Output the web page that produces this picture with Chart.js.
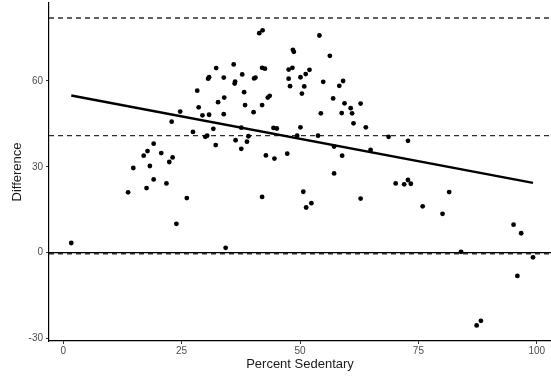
<!DOCTYPE html>
<html>
<head>
<meta charset="utf-8">
<script src="https://cdn.jsdelivr.net/npm/chart.js@4.4.1/dist/chart.umd.min.js"></script>
<style>
  html, body { margin: 0; padding: 0; background: #ffffff; }
  canvas { display: block; }
</style>
</head>
<body>
<canvas id="c" width="551" height="377"></canvas>
<script>
// ---- Data ----
const sedentaryX = [
  1.7, 13.7, 14.8, 17.0, 17.8, 17.6, 18.3, 19.1, 19.1, 20.7,
  21.8, 22.4, 23.1, 22.9, 23.9, 24.7, 26.1, 27.4, 28.3, 28.6,
  29.4, 30.8, 30.0, 30.4, 32.2, 31.7, 32.7, 34.0, 33.9, 32.3,
  30.6, 30.8, 33.9, 36.0, 37.8, 36.2, 36.3, 38.2, 38.4, 37.6,
  36.4, 37.6, 38.8, 39.1, 40.2, 40.3, 40.6, 41.4, 42.1, 42.0,
  42.6, 42.0, 43.2, 43.6, 42.8, 44.6, 44.4, 45.1, 47.3, 47.6,
  48.4, 48.5, 48.7, 47.6, 47.9, 50.1, 50.9, 50.4, 51.2, 52.0,
  50.1, 49.4, 54.1, 56.3, 54.9, 53.8, 54.4, 57.0, 58.3, 59.1,
  59.4, 58.8, 60.7, 61.0, 61.3, 62.8, 63.9, 57.2, 58.9, 57.2,
  64.9, 50.7, 42.0, 62.8, 68.7, 72.8, 70.2, 72.0, 72.8, 73.4,
  81.5, 51.3, 52.4, 34.3, 75.9, 80.1, 95.1, 96.7, 84.0, 99.2,
  95.9, 87.3, 88.2
];
const differenceY = [
  3.4, 21.1, 29.6, 33.9, 35.5, 22.6, 30.3, 38.1, 25.6, 34.8,
  24.2, 31.7, 33.3, 45.8, 10.1, 49.3, 19.1, 42.2, 56.6, 50.8,
  48.0, 48.2, 40.5, 40.9, 37.6, 43.3, 52.6, 54.2, 48.4, 64.5,
  60.8, 61.3, 61.2, 65.8, 62.3, 59.1, 59.8, 56.1, 51.6, 43.7,
  39.3, 36.3, 38.8, 40.7, 49.1, 60.9, 61.2, 76.7, 77.7, 64.6,
  64.3, 51.6, 54.2, 54.8, 34.0, 32.9, 43.6, 43.4, 34.6, 64.0,
  64.6, 70.9, 70.2, 60.8, 58.2, 61.3, 58.1, 55.6, 62.4, 63.9,
  43.8, 40.9, 75.9, 68.8, 59.7, 40.9, 48.7, 53.9, 58.3, 60.0,
  52.2, 48.8, 50.5, 48.7, 45.2, 52.1, 43.8, 37.1, 33.9, 27.7,
  35.9, 21.3, 19.5, 18.9, 40.5, 39.1, 24.2, 23.9, 25.4, 24.1,
  21.2, 15.8, 17.3, 1.7, 16.2, 13.6, 9.8, 6.8, 0.3, -1.6,
  -8.1, -25.4, -23.8
];
// fitted trend line endpoints
const trendX = [1.7, 99.2];
const trendY = [54.9, 24.4];
// dashed reference lines (upper limit, mean, lower limit)
const dashedLevels = [82.0, 40.9, -0.35];
// solid zero line
const solidLevels = [0];
// axis ranges and ticks
const xRange = [-3.0, 103.0];
const yRange = [-30.85, 87.25];
const xTicks = [0, 25, 50, 75, 100];
const yTicks = [-30, 0, 30, 60];
const xTitle = "Percent Sedentary";
const yTitle = "Difference";

// ---- Build datasets ----
const points = sedentaryX.map((x, i) => ({ x: x, y: differenceY[i] }));
const datasets = [];

solidLevels.forEach(v => {
  datasets.push({
    type: 'line',
    data: [{ x: xRange[0], y: v }, { x: xRange[1], y: v }],
    borderColor: '#000000',
    borderWidth: 1.3,
    pointRadius: 0,
    fill: false,
    order: 3
  });
});
dashedLevels.forEach(v => {
  datasets.push({
    type: 'line',
    data: [{ x: xRange[0], y: v }, { x: xRange[1], y: v }],
    borderColor: '#2e2e2e',
    borderWidth: 1.4,
    borderDash: [5, 4],
    pointRadius: 0,
    fill: false,
    order: 2
  });
});
datasets.push({
  type: 'scatter',
  data: points,
  backgroundColor: '#000000',
  borderWidth: 0,
  pointRadius: 2.4,
  order: 1
});
datasets.push({
  type: 'line',
  data: trendX.map((x, i) => ({ x: x, y: trendY[i] })),
  borderColor: '#000000',
  borderWidth: 2.5,
  pointRadius: 0,
  fill: false,
  order: 0
});

const FONT = "'Liberation Sans', Arial, Helvetica, sans-serif";

new Chart(document.getElementById('c'), {
  type: 'scatter',
  data: { datasets: datasets },
  options: {
    responsive: false,
    animation: false,
    devicePixelRatio: 1,
    layout: { autoPadding: false, padding: { top: 3, right: 0, bottom: 0, left: 0 } },
    plugins: { legend: { display: false }, tooltip: { enabled: false } },
    elements: { line: { tension: 0 } },
    scales: {
      x: {
        type: 'linear',
        min: xRange[0],
        max: xRange[1],
        afterBuildTicks: s => { s.ticks = xTicks.map(v => ({ value: v })); },
        afterFit: s => { s.height = 36; s.paddingLeft = 0; s.paddingRight = 0; },
        grid: { drawOnChartArea: false, drawTicks: true, tickLength: 3, tickColor: '#333333', tickWidth: 1 },
        border: { display: true, color: '#000000', width: 1.2 },
        ticks: {
          autoSkip: false, maxRotation: 0, padding: 1,
          color: '#4d4d4d', font: { family: FONT, size: 10 }
        },
        title: {
          display: true, text: xTitle, color: '#1a1a1a',
          font: { family: FONT, size: 13 },
          padding: { top: 0, bottom: 5 }
        }
      },
      y: {
        type: 'linear',
        min: yRange[0],
        max: yRange[1],
        afterBuildTicks: s => { s.ticks = yTicks.map(v => ({ value: v })); },
        afterFit: s => { s.width = 49; s.paddingTop = 0; s.paddingBottom = 0; },
        grid: { drawOnChartArea: false, drawTicks: true, tickLength: 3, tickColor: '#333333', tickWidth: 1 },
        border: { display: true, color: '#000000', width: 1.2 },
        ticks: {
          autoSkip: false, padding: 3,
          color: '#4d4d4d', font: { family: FONT, size: 10 }
        },
        title: {
          display: true, text: yTitle, color: '#1a1a1a',
          font: { family: FONT, size: 13 },
          padding: { top: 10, bottom: 0 }
        }
      }
    }
  }
});
</script>
</body>
</html>
